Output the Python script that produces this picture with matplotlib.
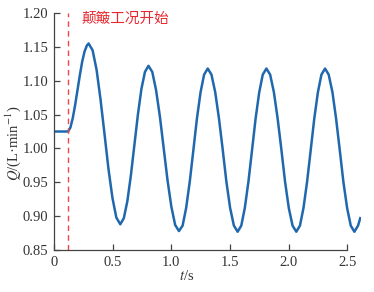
import matplotlib
matplotlib.use("Agg")
import matplotlib.pyplot as plt

plt.rcParams['font.family'] = ['Liberation Serif', 'DejaVu Serif']
plt.rcParams['mathtext.fontset'] = 'stix'

# flow rate
t = [0.00, 0.12, 0.14, 0.16, 0.18, 0.20, 0.22, 0.24, 0.26, 0.28, 0.295,
     0.329, 0.363, 0.396, 0.430, 0.464, 0.498, 0.531, 0.565,
     0.595, 0.625, 0.655, 0.685, 0.715, 0.745, 0.775, 0.805,
     0.8375, 0.870, 0.9025, 0.935, 0.9675, 1.000, 1.0325, 1.065,
     1.096, 1.126, 1.157, 1.188, 1.218, 1.249, 1.279, 1.310,
     1.342, 1.374, 1.406, 1.438, 1.469, 1.501, 1.533, 1.565,
     1.596, 1.626, 1.657, 1.688, 1.718, 1.749, 1.779, 1.810,
     1.842, 1.874, 1.906, 1.938, 1.969, 2.001, 2.033, 2.065,
     2.096, 2.126, 2.157, 2.188, 2.218, 2.249, 2.279, 2.310,
     2.341, 2.373, 2.404, 2.435, 2.466, 2.498, 2.529, 2.560,
     2.591, 2.610]
q = [1.025, 1.025, 1.031, 1.045, 1.064, 1.086, 1.108, 1.128, 1.143, 1.152, 1.155,
     1.145, 1.116, 1.073, 1.022, 0.970, 0.927, 0.898, 0.888,
     0.897, 0.922, 0.960, 1.005, 1.050, 1.088, 1.113, 1.122,
     1.113, 1.086, 1.047, 1.000, 0.953, 0.914, 0.887, 0.878,
     0.886, 0.912, 0.951, 0.998, 1.044, 1.083, 1.109, 1.118,
     1.109, 1.083, 1.044, 0.998, 0.951, 0.912, 0.886, 0.877,
     0.886, 0.912, 0.951, 0.998, 1.044, 1.083, 1.109, 1.118,
     1.109, 1.083, 1.044, 0.998, 0.951, 0.912, 0.886, 0.877,
     0.886, 0.912, 0.951, 0.998, 1.044, 1.083, 1.109, 1.118,
     1.109, 1.083, 1.044, 0.998, 0.951, 0.912, 0.886, 0.877,
     0.886, 0.897]

t_start = 0.12
start_label = "颠簸工况开始"
x_ticks = [0, 0.5, 1.0, 1.5, 2.0, 2.5]
x_labels = ["0", "0.5", "1.0", "1.5", "2.0", "2.5"]
y_ticks = [0.85, 0.90, 0.95, 1.00, 1.05, 1.10, 1.15, 1.20]

fig = plt.figure(figsize=(3.74, 2.92), dpi=100)
ax = fig.add_axes([0.1444, 0.1438, 0.822, 0.8116])

ax.plot(t, q, color='#2068ad', lw=1.8, solid_joinstyle='round')
ax.axvline(t_start, color='#f0454a', lw=1.0, ls=(0, (4, 3)))
ax.text(t_start + 0.115, 1.192, start_label, color='#e8282e', fontsize=10.5,
        va='center', ha='left', family=['Noto Sans CJK SC', 'DejaVu Sans'])

ax.set_xlim(0, 2.62)
ax.set_ylim(0.85, 1.20)
ax.set_xticks(x_ticks)
ax.set_xticklabels(x_labels)
ax.set_yticks(y_ticks)
ax.set_yticklabels(["%.2f" % v for v in y_ticks])

for s in ['top', 'right']:
    ax.spines[s].set_visible(False)
ax.spines['bottom'].set_bounds(0, 2.5)
ax.spines['left'].set_bounds(0.85, 1.20)
for s in ['bottom', 'left']:
    ax.spines[s].set_color('#444444')
    ax.spines[s].set_linewidth(0.9)
ax.tick_params(direction='in', length=4, width=0.9, color='#444444',
               labelsize=10.5, labelcolor='#333333', pad=4)

ax.set_xlabel(r'$t$/s', fontsize=10.5, color='#333333')
ax.set_ylabel(r'$Q$/(L·min$^{-1}$)', fontsize=10.5, color='#333333')
ax.xaxis.set_label_coords(0.43, -0.08)
ax.yaxis.set_label_coords(-0.10, 0.45)

fig.savefig('out.png', dpi=100)
